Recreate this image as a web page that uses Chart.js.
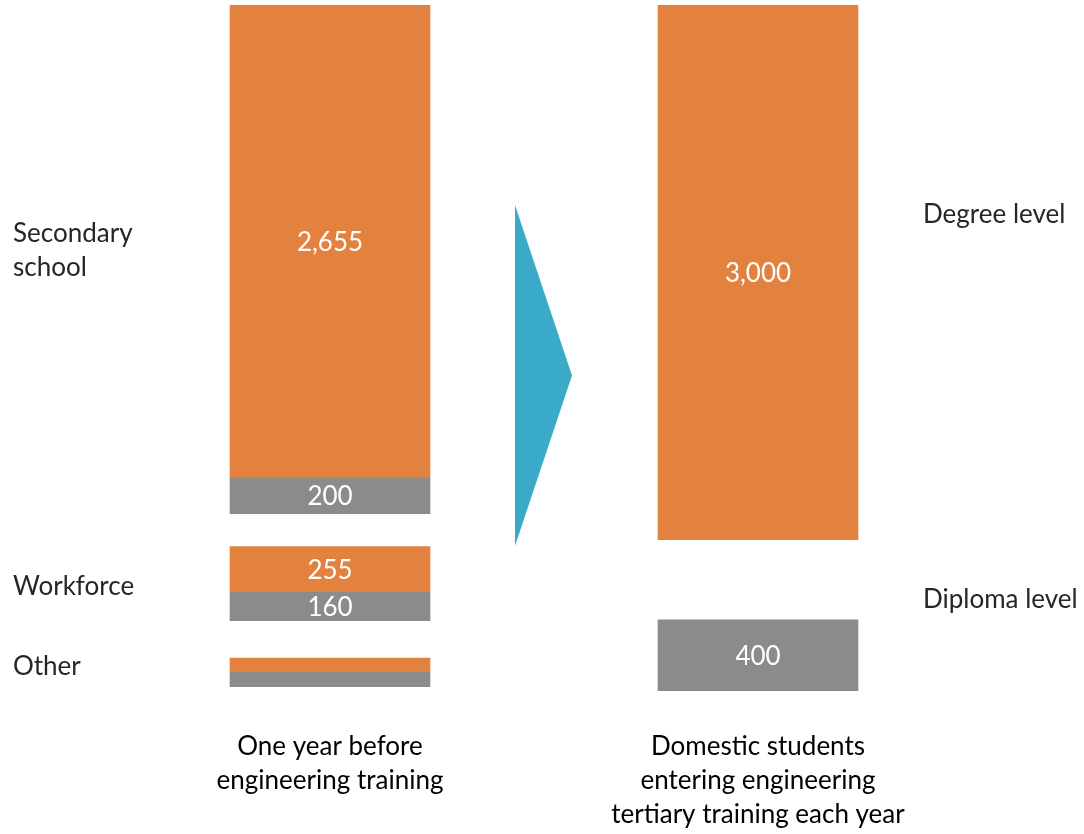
<!DOCTYPE html>
<html>
<head>
<meta charset="utf-8">
<script src="https://cdn.jsdelivr.net/npm/chart.js@4"></script>
<style>
  body { margin: 0; background: #fff; }
</style>
</head>
<body>
<canvas id="flow" width="1084" height="834"></canvas>
<script>
const categories = [
    ['One year before', 'engineering training'],
    ['Domestic students', 'entering engineering', 'tertiary training each year']
];

// where students come from (left bar), top block first
const sources = [['Secondary', 'school'], ['Workforce'], ['Other']];
const sourceDegree = [2655, 255, 80];
const sourceDiploma = [200, 160, 80];
const sourceSpacer = [185, 210, 25];   // empty space under each block
const sourceLabelAt = [2470, 584, 135];

// what they enter (right bar)
const levels = ['Degree level', 'Diploma level'];
const levelValues = [3000, 400];
const levelSpacer = 450;
const levelLabelAt = [2671, 511];

// arrow between the bars, bottom and top in axis units
const arrowSpan = [814, 2728];

const ORANGE = '#E3823F';
const GREY = '#8B8B8B';
const FONT = 'Lato';
const SIZE = 26;

// build the stack bottom-up: left bar in slot 0, right bar in slot 1
const datasets = [];
function seg(left, right, colour, showValue) {
    datasets.push({
        data: [left, right],
        backgroundColor: colour,
        showValue: showValue,
        stack: 's'
    });
}
for (let i = sources.length - 1; i >= 0; i--) {
    seg(sourceSpacer[i], null, 'rgba(0,0,0,0)', false);
    seg(sourceDiploma[i], null, GREY, sourceDiploma[i] >= 100);
    seg(sourceDegree[i], null, ORANGE, sourceDegree[i] >= 100);
}
seg(null, levelValues[1], GREY, true);
seg(null, levelSpacer, 'rgba(0,0,0,0)', false);
seg(null, levelValues[0], ORANGE, true);

const overlay = {
    id: 'overlay',
    afterDatasetsDraw(chart) {
        const { ctx, scales: { x, y } } = chart;
        ctx.save();

        // arrow
        const mid = (x.getPixelForValue(0) + x.getPixelForValue(1)) / 2;
        const yb = y.getPixelForValue(arrowSpan[0]);
        const yt = y.getPixelForValue(arrowSpan[1]);
        ctx.fillStyle = '#39ABC8';
        ctx.beginPath();
        ctx.moveTo(mid - 29, yt);
        ctx.lineTo(mid + 28, (yt + yb) / 2);
        ctx.lineTo(mid - 29, yb);
        ctx.closePath();
        ctx.fill();

        // values inside the segments
        ctx.font = SIZE + 'px ' + FONT;
        ctx.fillStyle = '#fff';
        ctx.textAlign = 'center';
        ctx.textBaseline = 'middle';
        chart.data.datasets.forEach((ds, i) => {
            if (!ds.showValue) return;
            chart.getDatasetMeta(i).data.forEach((bar, j) => {
                const v = ds.data[j];
                if (v == null) return;
                ctx.fillText(v.toLocaleString('en-US'), bar.x, (bar.y + bar.base) / 2 + 1);
            });
        });

        // row names on either side
        ctx.fillStyle = '#262626';
        ctx.textAlign = 'left';
        const lh = 34;
        sources.forEach((lines, i) => {
            const cy = y.getPixelForValue(sourceLabelAt[i]);
            lines.forEach((t, k) => {
                ctx.fillText(t, 13, cy + (k - (lines.length - 1) / 2) * lh);
            });
        });
        const rx = x.getPixelForValue(1) + 165;
        levels.forEach((t, i) => {
            ctx.fillText(t, rx, y.getPixelForValue(levelLabelAt[i]));
        });
        ctx.restore();
    }
};

new Chart(document.getElementById('flow'), {
    type: 'bar',
    data: { labels: categories, datasets: datasets },
    options: {
        responsive: false,
        animation: false,
        barThickness: 200,
        layout: { padding: { left: 116, right: 112, top: 5, bottom: 2 } },
        plugins: { legend: { display: false }, tooltip: { enabled: false } },
        scales: {
            x: {
                stacked: true,
                grid: { display: false, drawTicks: false },
                border: { display: false },
                afterFit(axis) { axis.height = 141; },
                ticks: {
                    padding: 39,
                    color: '#000',
                    font: { family: FONT, size: SIZE, lineHeight: 34 / SIZE }
                }
            },
            y: {
                stacked: true,
                display: false,
                min: 0,
                max: 3850
            }
        }
    },
    plugins: [overlay]
});
</script>
</body>
</html>
